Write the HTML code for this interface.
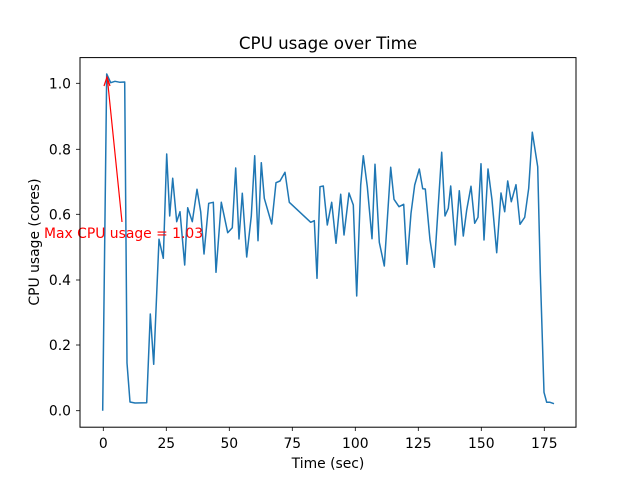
<!DOCTYPE html>
<html><head><style>body{margin:0;background:#fff}svg{display:block}text{font-family:"DejaVu Sans","Liberation Sans",sans-serif}</style></head>
<body>
<svg width="640" height="480" viewBox="0 0 640 480" xmlns="http://www.w3.org/2000/svg">
<rect width="640" height="480" fill="#fff"/>
<text x="328" y="49" font-size="16.7" text-anchor="middle">CPU usage over Time</text>
<polyline fill="none" stroke="#1f77b4" stroke-width="1.5" stroke-linejoin="round" points="102.7,410.7 106.7,74 110.7,82.7 115,81.3 120,82.3 124.7,82 127,363 130,402 135,403 146.7,402.7 150.3,314 153.7,364.3 159,239.3 163.3,258.3 166.7,154 169.7,216 172.7,178.3 176.7,221.7 180,211.7 184.7,265 187.7,207.7 192.3,221.7 197,189.3 200.7,211.7 204,254 208.7,203.3 213.3,202.3 216,272.3 221.3,202.3 227.7,232.7 232.3,227.7 235.7,168 239,239 242.3,193.3 246.7,257 251.3,216 254.7,155.7 258,240.7 261.3,162.7 264.3,198.3 271.7,224 276,182.7 280,181 285,172.3 289.3,202.3 310.7,222.3 314.3,220.7 317,278.3 320,186.7 323.3,186 327.3,225 331.7,202.3 336,243.3 340.7,194.3 344,235 349,193 353.3,205 356.7,296 360.7,185 363.3,155.7 367.3,186.7 372,238.7 375,164.3 379.3,242.3 384.3,266 390.7,167.3 394,199.3 399,206.7 403.7,204.3 407,264.3 411,213.3 414.7,185 419.3,169 422.7,188.7 425.3,189 430,240 434.3,267.3 441.7,152.3 445,216 448.3,208.3 450.7,186 455.3,245 459.3,190.7 463.3,236 466.7,210 471,186.3 474.7,223.3 478,217.3 481,163.7 484,240 488,169 492,200 496.7,252.7 501,193 504.7,211.7 507.7,181 511.3,201.7 516,184.7 520,224.3 524.7,217.3 528.7,188.3 532.3,132.3 537.7,166.7 540.3,273.3 544,392.3 546.7,402.3 550,402.3 554,403.7"/>
<line x1="122" y1="222" x2="107.5" y2="80" stroke="red" stroke-width="1.2"/>
<polyline points="104,86 107,77 110,86" fill="none" stroke="red" stroke-width="1.2"/>
<text x="44" y="238" font-size="13.9" fill="red">Max CPU usage = 1.03</text>
<rect x="80" y="57.6" width="496" height="369.6" fill="none" stroke="#000" stroke-width="1"/>
<g stroke="#000" stroke-width="0.8">
<line x1="103.3" y1="427" x2="103.3" y2="431"/><line x1="166.3" y1="427" x2="166.3" y2="431"/><line x1="229.3" y1="427" x2="229.3" y2="431"/><line x1="292.3" y1="427" x2="292.3" y2="431"/><line x1="355.3" y1="427" x2="355.3" y2="431"/><line x1="418.3" y1="427" x2="418.3" y2="431"/><line x1="481.3" y1="427" x2="481.3" y2="431"/><line x1="544.3" y1="427" x2="544.3" y2="431"/>
<line x1="76" y1="410.7" x2="80" y2="410.7"/><line x1="76" y1="345" x2="80" y2="345"/><line x1="76" y1="280" x2="80" y2="280"/><line x1="76" y1="214.3" x2="80" y2="214.3"/><line x1="76" y1="149.3" x2="80" y2="149.3"/><line x1="76" y1="83.3" x2="80" y2="83.3"/>
</g>
<g font-size="13.9" text-anchor="middle">
<text x="103.3" y="448">0</text><text x="166.3" y="448">25</text><text x="229.3" y="448">50</text><text x="292.3" y="448">75</text><text x="355.3" y="448">100</text><text x="418.3" y="448">125</text><text x="481.3" y="448">150</text><text x="544.3" y="448">175</text>
</g>
<g font-size="13.9" text-anchor="end">
<text x="71" y="415.7">0.0</text><text x="71" y="350">0.2</text><text x="71" y="285">0.4</text><text x="71" y="219.3">0.6</text><text x="71" y="154.3">0.8</text><text x="71" y="88.3">1.0</text>
</g>
<text x="328" y="468" font-size="13.9" text-anchor="middle">Time (sec)</text>
<text transform="translate(39,242) rotate(-90)" font-size="13.9" text-anchor="middle">CPU usage (cores)</text>
</svg>
</body></html>
